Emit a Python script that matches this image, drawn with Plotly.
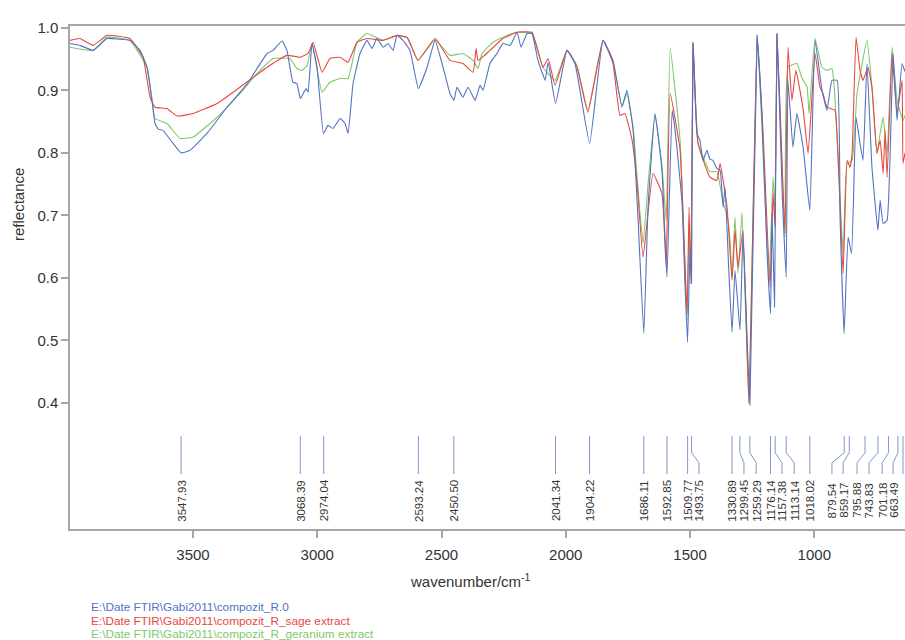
import plotly.graph_objects as go

# ---------------- data ----------------
wn_R0 = [3995, 3955, 3902, 3846, 3800, 3754, 3713, 3685, 3665, 3653, 3640, 3621, 3580, 3548, 3512,
         3444, 3363, 3283, 3202, 3178, 3142, 3122, 3098, 3082, 3068, 3045, 3037, 3021, 3001, 2975,
         2957, 2937, 2908, 2888, 2876, 2856, 2828, 2800, 2780, 2760, 2735, 2715, 2695, 2679, 2655,
         2627, 2593, 2558, 2526, 2494, 2466, 2450, 2438, 2414, 2393, 2365, 2345, 2333, 2305, 2277,
         2253, 2224, 2196, 2180, 2156, 2136, 2112, 2092, 2083, 2071, 2041, 1995, 1963, 1904, 1850,
         1810, 1774, 1754, 1729, 1709, 1686, 1669, 1641, 1613, 1593, 1572, 1560, 1532, 1520, 1510,
         1500, 1494, 1488, 1472, 1460, 1448, 1432, 1420, 1408, 1392, 1379, 1367, 1359, 1345, 1331,
         1319, 1299, 1287, 1259, 1230, 1210, 1190, 1176, 1170, 1160, 1150, 1130, 1113, 1106, 1086,
         1070, 1045, 1018, 997, 969, 949, 929, 908, 896, 880, 864, 850, 832, 816, 804,
         788, 768, 744, 735, 723, 707, 683, 667, 647, 635]
refl_R0 = [0.975, 0.972, 0.964, 0.983, 0.982, 0.980, 0.964, 0.937, 0.884, 0.847, 0.838, 0.836, 0.815, 0.800, 0.804,
           0.831, 0.873, 0.910, 0.959, 0.964, 0.979, 0.964, 0.913, 0.911, 0.887, 0.903, 0.897, 0.975, 0.937, 0.831,
           0.844, 0.839, 0.855, 0.847, 0.831, 0.911, 0.959, 0.980, 0.967, 0.983, 0.969, 0.975, 0.964, 0.988, 0.980,
           0.964, 0.903, 0.937, 0.980, 0.937, 0.895, 0.884, 0.905, 0.889, 0.905, 0.884, 0.908, 0.900, 0.943, 0.959,
           0.975, 0.972, 0.993, 0.969, 0.991, 0.991, 0.948, 0.925, 0.916, 0.945, 0.879, 0.964, 0.943, 0.815, 0.980,
           0.948, 0.873, 0.900, 0.836, 0.692, 0.511, 0.713, 0.863, 0.772, 0.601, 0.868, 0.836, 0.719, 0.585, 0.497,
           0.649, 0.591, 0.977, 0.831, 0.820, 0.788, 0.804, 0.790, 0.788, 0.775, 0.772, 0.713, 0.745, 0.620, 0.513,
           0.612, 0.516, 0.671, 0.396, 0.988, 0.852, 0.639, 0.543, 0.703, 0.553, 0.991, 0.745, 0.601, 0.916, 0.809,
           0.863, 0.809, 0.708, 0.980, 0.900, 0.868, 0.916, 0.916, 0.692, 0.511, 0.665, 0.639, 0.857, 0.815, 0.788,
           0.943, 0.777, 0.676, 0.724, 0.687, 0.692, 0.959, 0.852, 0.943, 0.930]

wn_sage = [3995, 3955, 3902, 3846, 3754, 3701, 3673, 3653, 3605, 3564, 3500, 3403, 3311, 3202, 3122,
           3069, 3037, 3017, 2981, 2949, 2908, 2876, 2840, 2800, 2735, 2679, 2639, 2595, 2526, 2466,
           2414, 2373, 2361, 2353, 2305, 2253, 2196, 2136, 2092, 2071, 2043, 1995, 1955, 1911, 1850,
           1810, 1782, 1762, 1733, 1713, 1689, 1649, 1613, 1596, 1580, 1540, 1512, 1504, 1496, 1488,
           1468, 1420, 1392, 1379, 1351, 1331, 1319, 1307, 1287, 1263, 1230, 1206, 1178, 1166, 1158,
           1150, 1118, 1106, 1090, 1074, 1045, 1025, 997, 977, 965, 949, 917, 905, 884, 868,
           856, 848, 832, 816, 804, 784, 768, 748, 735, 723, 715, 707, 687, 667, 647, 643, 635]
refl_sage = [0.980, 0.983, 0.972, 0.988, 0.983, 0.953, 0.889, 0.873, 0.871, 0.859, 0.863, 0.879, 0.905, 0.937, 0.956,
             0.953, 0.959, 0.977, 0.929, 0.951, 0.953, 0.945, 0.977, 0.983, 0.980, 0.988, 0.985, 0.948, 0.983, 0.948,
             0.943, 0.929, 0.967, 0.948, 0.964, 0.983, 0.993, 0.993, 0.937, 0.951, 0.908, 0.964, 0.937, 0.865, 0.980,
             0.943, 0.860, 0.863, 0.820, 0.751, 0.633, 0.767, 0.735, 0.617, 0.895, 0.804, 0.543, 0.713, 0.591, 0.975,
             0.815, 0.761, 0.756, 0.783, 0.713, 0.596, 0.676, 0.617, 0.676, 0.399, 0.985, 0.831, 0.585, 0.735, 0.681,
             0.991, 0.671, 0.969, 0.884, 0.932, 0.870, 0.799, 0.959, 0.905, 0.895, 0.873, 0.868, 0.800, 0.607, 0.788,
             0.777, 0.799, 0.985, 0.932, 0.916, 0.937, 0.905, 0.799, 0.820, 0.767, 0.836, 0.761, 0.959, 0.863, 0.916, 0.783, 0.800]

wn_geranium = [3995, 3902, 3846, 3754, 3685, 3665, 3653, 3605, 3552, 3500, 3403, 3311, 3242, 3178, 3110,
               3082, 3061, 3041, 3021, 2981, 2949, 2908, 2876, 2840, 2800, 2735, 2679, 2635, 2595, 2526,
               2466, 2414, 2373, 2353, 2337, 2293, 2253, 2196, 2136, 2092, 2043, 1995, 1955, 1911, 1850,
               1810, 1774, 1754, 1729, 1709, 1689, 1669, 1641, 1613, 1596, 1580, 1540, 1512, 1504, 1496,
               1488, 1468, 1420, 1392, 1367, 1351, 1339, 1331, 1319, 1307, 1291, 1263, 1230, 1210, 1182,
               1166, 1158, 1150, 1118, 1106, 1070, 1050, 1029, 1021, 997, 969, 949, 929, 917, 884,
               868, 848, 828, 788, 768, 748, 735, 723, 707, 687, 667, 643, 635]
refl_geranium = [0.969, 0.964, 0.985, 0.980, 0.937, 0.884, 0.855, 0.847, 0.823, 0.825, 0.857, 0.895, 0.927, 0.951, 0.951,
                 0.935, 0.932, 0.940, 0.975, 0.897, 0.913, 0.919, 0.919, 0.977, 0.991, 0.980, 0.988, 0.983, 0.948, 0.981,
                 0.956, 0.959, 0.948, 0.935, 0.959, 0.977, 0.985, 0.993, 0.991, 0.937, 0.916, 0.964, 0.940, 0.868, 0.980,
                 0.945, 0.875, 0.895, 0.840, 0.740, 0.655, 0.750, 0.860, 0.780, 0.692, 0.967, 0.820, 0.532, 0.680, 0.600,
                 0.975, 0.815, 0.770, 0.770, 0.720, 0.700, 0.660, 0.601, 0.697, 0.607, 0.705, 0.400, 0.988, 0.836, 0.596,
                 0.761, 0.703, 0.988, 0.665, 0.937, 0.943, 0.920, 0.905, 0.863, 0.983, 0.937, 0.932, 0.935, 0.889, 0.639,
                 0.783, 0.788, 0.895, 0.980, 0.905, 0.799, 0.831, 0.857, 0.799, 0.969, 0.884, 0.852, 0.860]

peak_wn = [3547.93, 3068.39, 2974.04, 2593.24, 2450.50, 2041.34, 1904.22, 1686.11, 1592.85, 1509.77,
           1493.75, 1330.89, 1299.45, 1259.29, 1176.14, 1157.38, 1113.14, 1018.02, 879.54, 859.17,
           795.88, 743.83, 701.18, 663.49]
peak_label_wn = [3547.93, 3068.39, 2974.04, 2593.24, 2450.50, 2041.34, 1904.22, 1686.11, 1592.85, 1509.77,
                 1464, 1330.89, 1283, 1234, 1176.14, 1130, 1081, 1018.02, 929, 884,
                 828, 780, 727, 683]
peak_text = ["3547.93", "3068.39", "2974.04", "2593.24", "2450.50", "2041.34", "1904.22", "1686.11",
             "1592.85", "1509.77", "1493.75", "1330.89", "1299.45", "1259.29", "1176.14", "1157.38",
             "1113.14", "1018.02", "879.54", "859.17", "795.88", "743.83", "701.18", "663.49"]

series_names = ["E:\\Date FTIR\\Gabi2011\\compozit_R.0",
                "E:\\Date FTIR\\Gabi2011\\compozit_R_sage extract",
                "E:\\Date FTIR\\Gabi2011\\compozit_R_geranium extract"]
y_ticks = [0.4, 0.5, 0.6, 0.7, 0.8, 0.9, 1.0]
x_ticks = [3500, 3000, 2500, 2000, 1500, 1000]

# ---------------- styles / layout geometry ----------------
C_BLUE = "#5372c2"
C_RED = "#e9473f"
C_GREEN = "#7fc86c"
C_PEAK = "#8196c9"
AX = "#a6a6a6"
TXT = "#333333"
FONT = "Liberation Sans, Arial, sans-serif"

W, H = 905, 640
ML, MR, MT, MB = 70, 0, 26, 111
PW, PH = W - ML - MR, H - MT - MB


def pxx(x):
    return (x - ML) / PW


def pxy(y):
    return (H - MB - y) / PH


fig = go.Figure()

for wn, refl, col, name in [(wn_geranium, refl_geranium, C_GREEN, series_names[2]),
                            (wn_sage, refl_sage, C_RED, series_names[1]),
                            (wn_R0, refl_R0, C_BLUE, series_names[0])]:
    fig.add_trace(go.Scatter(x=wn, y=refl, mode="lines", name=name,
                             line=dict(color=col, width=1.1, shape="spline", smoothing=0.35),
                             hoverinfo="x+y", showlegend=False))

# peak marker lines (vertical, bent toward the label when crowded)
Y_TOP, Y_B1, Y_B2, Y_BOT = 0.347, 0.320, 0.304, 0.286
px, py = [], []
for p, l in zip(peak_wn, peak_label_wn):
    px += [p, p, l, l, None]
    py += [Y_TOP, Y_B1, Y_B2, Y_BOT, None]
px += [643, 643, 643, 643]
py += [Y_TOP, Y_B1, Y_B2, Y_BOT]
fig.add_trace(go.Scatter(x=px, y=py, mode="lines", line=dict(color=C_PEAK, width=1),
                         hoverinfo="skip", showlegend=False))

annotations = []
for l, t in zip(peak_label_wn, peak_text):
    annotations.append(dict(x=l, y=0.2435, xref="x", yref="y", text=t, showarrow=False,
                            textangle=-90, xanchor="center", yanchor="middle",
                            font=dict(family=FONT, size=11.5, color=TXT)))

legend_cols = [C_BLUE, C_RED, C_GREEN]
legend_y = [607, 620.5, 634]
for name, col, yy in zip(series_names, legend_cols, legend_y):
    annotations.append(dict(x=pxx(89), y=pxy(yy), xref="paper", yref="paper",
                            text=name, showarrow=False, xanchor="left", yanchor="middle",
                            font=dict(family=FONT, size=11.8, color=col)))

annotations.append(dict(x=pxx(470), y=pxy(580), xref="paper", yref="paper",
                        text="wavenumber/cm<sup>-1</sup>", showarrow=False,
                        xanchor="center", yanchor="middle",
                        font=dict(family=FONT, size=15, color=TXT)))
annotations.append(dict(x=pxx(18), y=pxy(205), xref="paper", yref="paper",
                        text="reflectance", showarrow=False, textangle=-90,
                        xanchor="center", yanchor="middle",
                        font=dict(family=FONT, size=15, color=TXT)))

fig.update_layout(
    width=W, height=H,
    margin=dict(l=ML, r=MR, t=MT, b=MB, pad=0),
    paper_bgcolor="white", plot_bgcolor="white",
    font=dict(family=FONT, color=TXT),
    annotations=annotations,
    xaxis=dict(range=[3995, 635], tickvals=x_ticks, ticks="outside", ticklen=7,
               tickcolor=AX, tickwidth=1.5, showline=True, linecolor=AX, linewidth=1.5,
               mirror=True, showgrid=False, zeroline=False, ticklabelstandoff=4,
               tickfont=dict(family=FONT, size=15, color=TXT)),
    yaxis=dict(range=[0.198, 1.003], tickvals=y_ticks, tickformat=".1f", ticks="outside",
               ticklen=7, tickcolor=AX, tickwidth=1.5, showline=True, linecolor=AX,
               linewidth=1.5, showgrid=False, zeroline=False,
               tickfont=dict(family=FONT, size=15, color=TXT)),
)

fig.write_html("out.html", config={"displayModeBar": False},
               post_script="document.body.style.margin='0';document.body.style.overflow='hidden';")
